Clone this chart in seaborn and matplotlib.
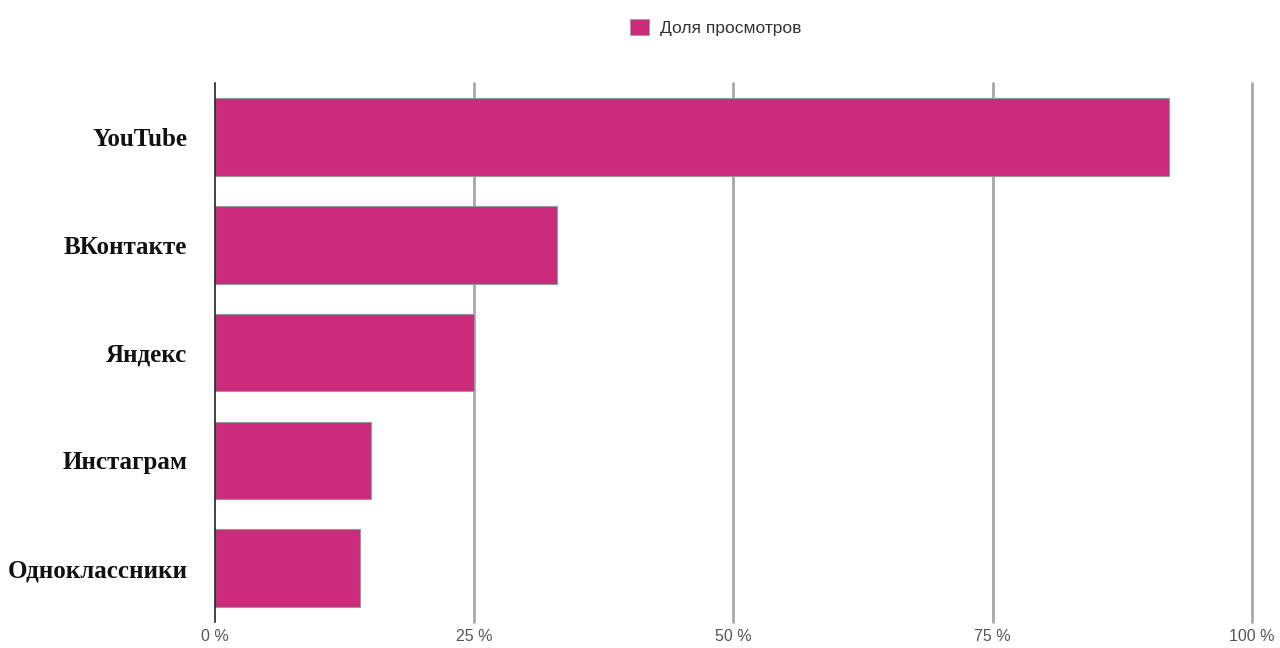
import matplotlib
matplotlib.use("Agg")
import matplotlib.pyplot as plt
import seaborn as sns
import pandas as pd
from matplotlib.patches import Patch

categories = ["YouTube", "ВКонтакте", "Яндекс", "Инстаграм", "Одноклассники"]
values = [92, 33, 25, 15, 14]
series_name = "Доля просмотров"
ticks = [0, 25, 50, 75, 100]
tick_labels = ["0 %", "25 %", "50 %", "75 %", "100 %"]

sns.set_theme(style="white")
plt.rcParams['font.family'] = ['Liberation Sans', 'DejaVu Sans']

df = pd.DataFrame({"cat": categories, "val": values, "series": series_name})

fig = plt.figure(figsize=(12.8, 6.48), dpi=100)
ax = fig.add_axes([0.168, 0.040, 0.810, 0.832])

sns.barplot(data=df, x="val", y="cat", hue="series", palette=["#CC2A7A"],
            saturation=1, orient="h", width=0.72, edgecolor="#999999",
            linewidth=0.8, ax=ax, legend=False, zorder=3)

ax.set_xlim(0, 100)
ax.set_ylim(4.5, -0.5)
ax.set_xticks(ticks)
ax.set_xticklabels(tick_labels, fontsize=11.5, color="#555555")
ax.tick_params(axis="x", length=0, pad=5)
ax.tick_params(axis="y", length=0, pad=20)
for lbl in ax.get_yticklabels():
    lbl.set_fontfamily("Liberation Serif")
    lbl.set_fontweight("bold")
    lbl.set_fontsize(18)
    lbl.set_color("#111111")
ax.set_xlabel("")
ax.set_ylabel("")
for x in ticks[1:]:
    ax.axvline(x, color="#a8a8a8", linewidth=2, zorder=1, clip_on=False)
for s in ["top", "right", "bottom"]:
    ax.spines[s].set_visible(False)
ax.spines["left"].set_color("#222222")
ax.spines["left"].set_linewidth(1.2)
ax.spines["left"].set_zorder(4)

handle = Patch(facecolor="#CC2A7A", edgecolor="#999999", linewidth=0.5)
fig.legend([handle], [series_name], loc="center", bbox_to_anchor=(0.559, 0.958),
           frameon=False, fontsize=12.5, handlelength=1.1, handleheight=1.1,
           handletextpad=0.6, labelcolor="#333333")

fig.savefig("out.png", dpi=100)
